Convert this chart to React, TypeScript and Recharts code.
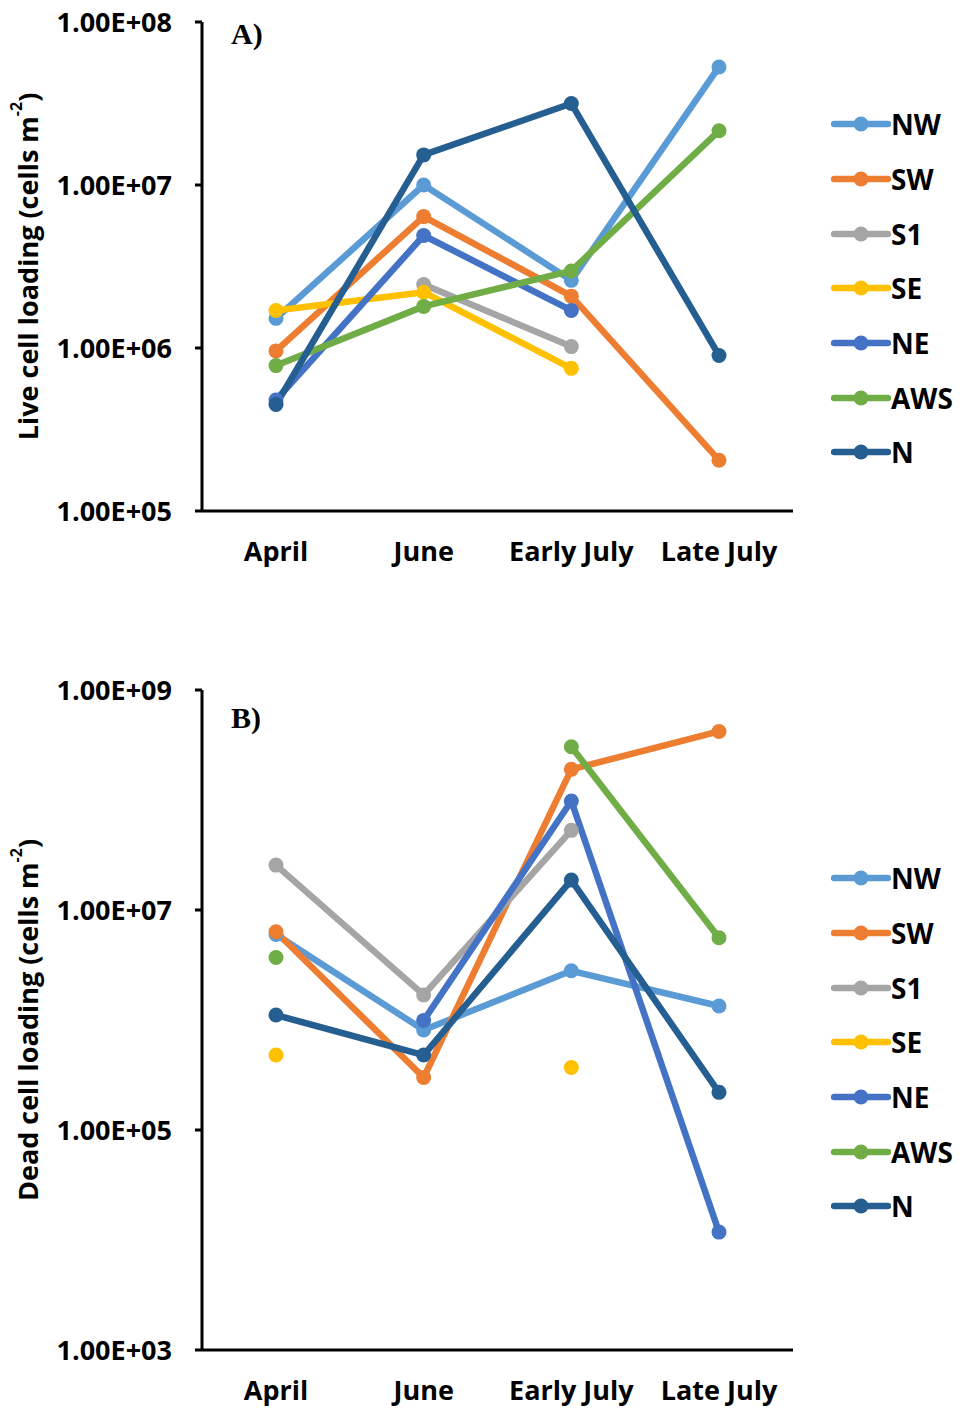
import { LineChart, Line, XAxis, YAxis, Legend } from 'recharts';

const FONT = '"Open Sans", "Noto Sans", sans-serif';

const months = ['April', 'June', 'Early July', 'Late July'];
const sites = ['NW', 'SW', 'S1', 'SE', 'NE', 'AWS', 'N'];
const siteColors = ['#5B9BD5', '#ED7D31', '#A5A5A5', '#FFC000', '#4472C4', '#70AD47', '#255E91'];

// A) live cell loading (cells m-2), null = not sampled
const liveNW = [1.52e6, 1.0e7, 2.6e6, 5.3e7];
const liveSW = [9.6e5, 6.4e6, 2.08e6, 2.05e5];
const liveS1 = [null, 2.45e6, 1.02e6, null];
const liveSE = [1.7e6, 2.2e6, 7.5e5, null];
const liveNE = [4.8e5, 4.9e6, 1.7e6, null];
const liveAWS = [7.8e5, 1.8e6, 2.97e6, 2.15e7];
const liveN = [4.5e5, 1.53e7, 3.16e7, 9.0e5];
const liveTicks = [1e5, 1e6, 1e7, 1e8];

// B) dead cell loading (cells m-2)
const deadNW = [6.0e6, 8.1e5, 2.8e6, 1.34e6];
const deadSW = [6.35e6, 3.0e5, 1.9e8, 4.2e8];
const deadS1 = [2.56e7, 1.69e6, 5.3e7, null];
const deadSE = [4.8e5, null, 3.7e5, null];
const deadNE = [null, 9.9e5, 9.8e7, 1.18e4];
const deadAWS = [3.7e6, null, 3.05e8, 5.6e6];
const deadN = [1.11e6, 4.8e5, 1.87e7, 2.2e5];
const deadTicks = [1e3, 1e5, 1e7, 1e9];

type Cell = number | null;

function buildRows(series: Cell[][]) {
  return months.map((month, i) => {
    const row: Record<string, string | Cell> = { month };
    sites.forEach((s, k) => {
      row[s] = series[k][i];
    });
    return row;
  });
}

const liveRows = buildRows([liveNW, liveSW, liveS1, liveSE, liveNE, liveAWS, liveN]);
const deadRows = buildRows([deadNW, deadSW, deadS1, deadSE, deadNE, deadAWS, deadN]);

// Excel style scientific labels: 1.00E+08
const sci = (v: number) => {
  const exp = Math.floor(Math.log10(v) + 1e-9);
  const mant = v / Math.pow(10, exp);
  return `${mant.toFixed(2)}E+${String(exp).padStart(2, '0')}`;
};

function SiteLegend() {
  return (
    <div style={{ fontFamily: FONT, fontWeight: 700, fontSize: 28, color: '#000' }}>
      {sites.map((s, i) => (
        <div key={s} style={{ height: 54.7, display: 'flex', alignItems: 'center' }}>
          <svg width={60} height={16} style={{ display: 'block' }}>
            <line x1={3} y1={8} x2={57} y2={8} stroke={siteColors[i]} strokeWidth={6.5} strokeLinecap="round" />
            <circle cx={30} cy={8} r={7.5} fill={siteColors[i]} />
          </svg>
          <span style={{ lineHeight: 1 }}>{s}</span>
        </div>
      ))}
    </div>
  );
}

interface PanelProps {
  data: Record<string, string | Cell>[];
  top: number;
  height: number;
  plotTop: number;
  plotBottom: number;
  ticks: number[];
  title: string;
  tag: string;
  tagY: number;
  legendTop: number;
}

function Panel({ data, top, height, plotTop, plotBottom, ticks, title, tag, tagY, legendTop }: PanelProps) {
  const midY = (plotTop + plotBottom) / 2;
  const labels = () => (
    <g>
      <text
        x={27}
        y={midY}
        transform={`rotate(-90 27 ${midY})`}
        textAnchor="middle"
        dominantBaseline="central"
        fontFamily={FONT}
        fontWeight={700}
        fontSize={27}
        fill="#000"
      >
        {title}
        <tspan fontSize={16} dy={-11}>-2</tspan>
        <tspan dy={11}>)</tspan>
      </text>
      <text x={231} y={tagY} fontFamily='"Liberation Serif", "Times New Roman", serif' fontWeight={700} fontSize={30} fill="#000">
        {tag}
      </text>
    </g>
  );

  return (
    <div style={{ position: 'absolute', left: 0, top }}>
      <LineChart
        width={960}
        height={height}
        data={data}
        margin={{ top: plotTop, right: 167, bottom: height - plotBottom - 60, left: 82 }}
      >
        <XAxis
          dataKey="month"
          height={60}
          padding={{ left: 74, right: 74 }}
          interval={0}
          axisLine={{ stroke: '#000', strokeWidth: 3 }}
          tickLine={false}
          tickSize={0}
          tickMargin={31}
          tick={{ fill: '#000', fontSize: 27, fontWeight: 700, fontFamily: FONT }}
        />
        <YAxis
          type="number"
          scale="log"
          domain={[ticks[0], ticks[ticks.length - 1]]}
          ticks={ticks}
          allowDataOverflow
          width={120}
          axisLine={{ stroke: '#000', strokeWidth: 3 }}
          tickLine={{ stroke: '#000', strokeWidth: 3 }}
          tickSize={7}
          tickMargin={23}
          tickFormatter={sci}
          tick={{ fill: '#000', fontSize: 27, fontWeight: 700, fontFamily: FONT }}
          label={labels}
        />
        <Legend
          layout="vertical"
          align="center"
          verticalAlign="middle"
          wrapperStyle={{ left: 831, top: legendTop, width: 130 }}
          content={() => <SiteLegend />}
        />
        {sites.map((s, i) => (
          <Line
            key={s}
            dataKey={s}
            stroke={siteColors[i]}
            strokeWidth={6.5}
            strokeLinejoin="round"
            strokeLinecap="round"
            dot={{ r: 7.5, fill: siteColors[i], stroke: 'none' }}
            activeDot={false}
            connectNulls={false}
            isAnimationActive={false}
          />
        ))}
      </LineChart>
    </div>
  );
}

export default function App() {
  return (
    <div style={{ position: 'absolute', left: 0, top: 0, width: 960, height: 1409, background: '#fff' }}>
      <Panel
        data={liveRows}
        top={0}
        height={600}
        plotTop={22}
        plotBottom={511}
        ticks={liveTicks}
        title="Live cell loading (cells m"
        tag="A)"
        tagY={44}
        legendTop={97}
      />
      <Panel
        data={deadRows}
        top={620}
        height={789}
        plotTop={70}
        plotBottom={730}
        ticks={deadTicks}
        title="Dead cell loading (cells m"
        tag="B)"
        tagY={108}
        legendTop={231}
      />
    </div>
  );
}
